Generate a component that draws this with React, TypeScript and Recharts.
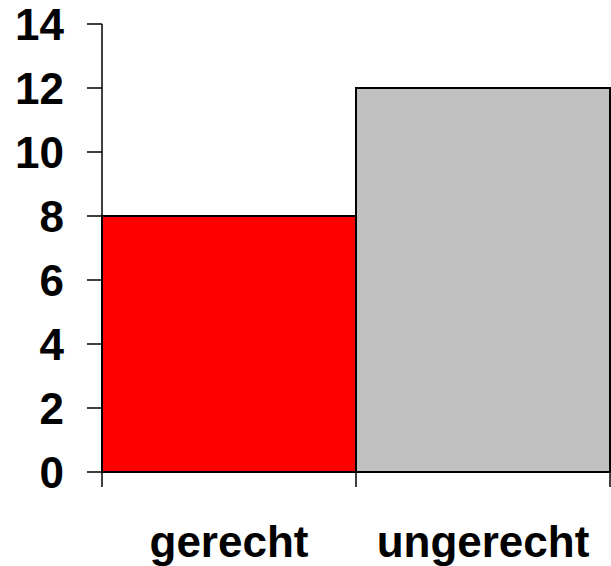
import React from "react";
import { BarChart, Bar, XAxis, YAxis, Cell } from "recharts";

const categories = ["gerecht", "ungerecht"];
const values = [8, 12];
const barColors = ["#FF0000", "#C0C0C0"];
const yTicks = [0, 2, 4, 6, 8, 10, 12, 14];

const data = categories.map((c, i) => ({ name: c, value: values[i] }));

const FONT = "'Liberation Sans', Arial, sans-serif";
const FONT_SIZE = 44;
const X_TICK_SIZE = 15;
const X_TICK_MARGIN = 39;

const XTick = (props: any) => {
  const { x, y, payload, index, visibleTicksCount } = props;
  const off = payload && payload.offset ? payload.offset : 127;
  const axisY = y - X_TICK_SIZE - X_TICK_MARGIN;
  const isLast = index === (visibleTicksCount ?? categories.length) - 1;
  return (
    <g>
      <line x1={x - off} x2={x - off} y1={axisY} y2={axisY + X_TICK_SIZE} stroke="#000" strokeWidth={1.5} />
      {isLast && (
        <line x1={x + off} x2={x + off} y1={axisY} y2={axisY + X_TICK_SIZE} stroke="#000" strokeWidth={1.5} />
      )}
      <text x={x} y={y} dy="0.71em" textAnchor="middle" fill="#000" fontFamily={FONT} fontSize={FONT_SIZE} fontWeight="bold">
        {payload.value}
      </text>
    </g>
  );
};

export default function App() {
  return (
    <div style={{ position: "absolute", left: 0, top: 0, width: 611, height: 566, background: "#fff" }}>
      <BarChart
        width={611}
        height={566}
        data={data}
        margin={{ top: 24, right: 1, left: 0, bottom: 0 }}
        barCategoryGap={0}
      >
        <XAxis
          dataKey="name"
          height={94}
          axisLine={{ stroke: "#000", strokeWidth: 1.5 }}
          tickLine={false}
          tickSize={X_TICK_SIZE}
          tickMargin={X_TICK_MARGIN}
          tick={<XTick />}
          interval={0}
        />
        <YAxis
          width={102}
          domain={[0, 14]}
          ticks={yTicks}
          interval={0}
          axisLine={{ stroke: "#000", strokeWidth: 1.5 }}
          tickLine={{ stroke: "#000", strokeWidth: 1.5 }}
          tickSize={15}
          tickMargin={23}
          tick={{ fill: "#000", fontFamily: FONT, fontSize: FONT_SIZE, fontWeight: "bold" }}
        />
        <Bar dataKey="value" isAnimationActive={false} stroke="#000" strokeWidth={2}>
          {data.map((d, i) => (
            <Cell key={d.name} fill={barColors[i]} />
          ))}
        </Bar>
      </BarChart>
    </div>
  );
}
